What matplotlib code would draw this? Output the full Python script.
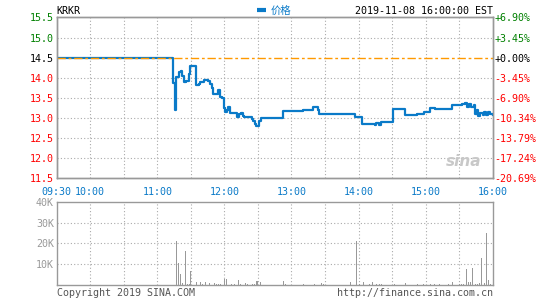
import numpy as np
import matplotlib.pyplot as plt

# minutes after 09:30 and price
t_price = [0, 103, 104, 106, 107, 109, 111, 112, 114, 116, 118, 119, 123, 125, 127,
           128, 132, 135, 137, 139, 140, 142, 144, 146, 148, 150, 151, 152, 153, 155,
           160, 161, 163, 165, 167, 168, 173, 175, 176, 177, 178, 180, 181, 183, 201,
           202, 219, 220, 227, 229, 232, 234, 235, 265, 267, 271, 273, 280, 285, 286,
           288, 290, 300, 301, 311, 312, 321, 322, 328, 329, 332, 334, 337, 338, 352,
           354, 362, 363, 365, 367, 369, 371, 373, 374, 376, 377, 379, 381, 382, 384,
           386, 388, 390]
price = [14.5, 14.5, 13.86, 13.2, 14.02, 14.15, 14.17, 14.05, 13.9, 13.93, 14.1, 14.3, 14.3, 13.82, 13.85,
         13.9, 13.95, 13.92, 13.84, 13.74, 13.59, 13.59, 13.7, 13.53, 13.5, 13.24, 13.15, 13.2, 13.28, 13.11,
         13.11, 13.03, 13.1, 13.13, 13.05, 13.01, 13.03, 12.98, 12.93, 12.85, 12.8, 12.8, 12.92, 13.0, 13.0,
         13.17, 13.17, 13.19, 13.2, 13.27, 13.28, 13.2, 13.09, 13.09, 13.02, 13.02, 12.84, 12.84, 12.82, 12.88,
         12.83, 12.9, 12.9, 13.22, 13.22, 13.06, 13.06, 13.1, 13.1, 13.14, 13.14, 13.25, 13.25, 13.22, 13.22,
         13.32, 13.32, 13.35, 13.38, 13.28, 13.35, 13.26, 13.33, 13.1, 13.2, 13.05, 13.13, 13.07, 13.15, 13.08,
         13.15, 13.1, 13.07]

# volume bars (minutes after 09:30, shares)
t_vol = [107.3, 108.8, 110.6, 112.3, 115, 116.8, 118.6, 120.1, 124.9, 128.4, 130.2, 132.9, 136.5,
         141, 143.1, 144.9, 146.3, 150.5, 152.3, 154.1, 156.5, 158.9, 160.4, 162.4, 164.6, 168.7,
         170.8, 172.9, 175, 176.7, 178.5, 179.4, 182.1, 202.7, 204.5, 220.6, 230.4, 237, 238.5,
         262.6, 268, 270.7, 274.2, 280.2, 282.3, 286.2, 288.6, 290.7, 302, 311.8, 322.5, 327.9,
         334.2, 337.7, 342.2, 348.2, 350.3, 353.8, 360.7, 362.3, 363.7, 366.4, 368.2, 370, 371.7,
         374.8, 376.2, 378, 379.8, 382.5, 384.3, 386, 387.8]
volume = [21200, 10800, 5400, 1100, 16400, 500, 700, 7000, 1600, 1600, 800, 1400, 900,
          1300, 500, 500, 500, 3200, 3200, 1200, 500, 500, 500, 2500, 800, 1100,
          500, 500, 500, 500, 2000, 2000, 1600, 2000, 600, 500, 500, 1100, 600,
          1600, 21200, 500, 1600, 600, 1400, 700, 700, 400, 500, 1100, 500, 500,
          500, 500, 500, 500, 500, 1600, 500, 500, 500, 7800, 1800, 1800, 8300,
          500, 500, 1000, 13000, 1000, 25000, 2500, 700]

prev_close = 14.5
price_ticks = [11.5, 12.0, 12.5, 13.0, 13.5, 14.0, 14.5, 15.0, 15.5]
time_ticks = [0, 30, 90, 150, 210, 270, 330, 390]
time_labels = ["09:30", "10:00", "11:00", "12:00", "13:00", "14:00", "15:00", "16:00"]
vol_ticks = [10000, 20000, 30000, 40000]
vol_labels = ["10K", "20K", "30K", "40K"]

mono = "DejaVu Sans Mono"
fs = 7.2
blue = "#0a7ac8"
green = "#008000"
red = "#ff0000"
gray = "#999999"
grid_kw = dict(color="#aaaaaa", linestyle=(0, (1, 2)), linewidth=0.8)


def tick_color(p):
    if p > prev_close:
        return green
    if p < prev_close:
        return red
    return "black"


fig = plt.figure(figsize=(5.45, 3.0), dpi=100)
ax = fig.add_axes([0.104, 0.406, 0.800, 0.536])
axv = fig.add_axes([0.104, 0.049, 0.800, 0.279])

# price panel
for g in range(30, 390, 30):
    ax.axvline(g, **grid_kw, zorder=1)
for p in price_ticks[1:-1]:
    if p != prev_close:
        ax.axhline(p, **grid_kw, zorder=1)
ax.plot(t_price, price, drawstyle="steps-post", color=blue, linewidth=1.6, zorder=3)
ax.axhline(prev_close, color="#ff9900", linewidth=1.0, linestyle=(0, (6, 2, 2, 2)), zorder=4)
ax.set_xlim(0, 390)
ax.set_ylim(11.5, 15.5)
ax.set_yticks(price_ticks)
ax.set_yticklabels(["%.1f" % p for p in price_ticks], family=mono, fontsize=fs)
for lab, p in zip(ax.get_yticklabels(), price_ticks):
    lab.set_color(tick_color(p))
ax.set_xticks(time_ticks)
ax.set_xticklabels(time_labels, family=mono, fontsize=fs, color=blue)
ax.tick_params(axis="y", length=0, pad=2)
ax.tick_params(axis="x", length=0, pad=6)

ax2 = ax.twinx()
ax2.set_ylim(11.5, 15.5)
ax2.set_yticks(price_ticks)
ax2.set_yticklabels(["%+.2f%%" % ((p - prev_close) / prev_close * 100) for p in price_ticks],
                    family=mono, fontsize=fs)
for lab, p in zip(ax2.get_yticklabels(), price_ticks):
    lab.set_color(tick_color(p))
ax2.tick_params(length=0, pad=1)

for a in (ax, ax2, axv):
    for s in a.spines.values():
        s.set_color(gray)
        s.set_linewidth(1.0)

ax.text(0, 1.01, "KRKR", transform=ax.transAxes, family=mono, fontsize=fs, va="bottom")
ax.text(1.0, 1.01, "2019-11-08 16:00:00 EST", transform=ax.transAxes, family=mono,
        fontsize=fs, va="bottom", ha="right")
ax.plot([0.459, 0.481], [1.043, 1.043], transform=ax.transAxes, color=blue, linewidth=3,
        clip_on=False, solid_capstyle="butt")
ax.text(0.49, 1.01, "价格", transform=ax.transAxes, family=["Noto Sans CJK SC", "DejaVu Sans"],
        fontsize=7.5, color=blue, va="bottom")
ax.text(0.975, 0.06, "sina", transform=ax.transAxes, fontsize=11, fontweight="bold",
        style="italic", color="#c8c8c8", ha="right", va="bottom", zorder=2)

# volume panel
for g in range(30, 390, 30):
    axv.axvline(g, **grid_kw, zorder=1)
for v in vol_ticks[:-1]:
    axv.axhline(v, **grid_kw, zorder=1)
axv.bar(t_vol, volume, width=0.8, color=gray, zorder=3)
axv.set_xlim(0, 390)
axv.set_ylim(0, 40000)
axv.set_xticks([])
axv.set_yticks(vol_ticks)
axv.set_yticklabels(vol_labels, family=mono, fontsize=fs, color=gray)
axv.tick_params(length=0, pad=2)

fig.text(0.104, 0.005, "Copyright 2019 SINA.COM", family=mono, fontsize=fs, color="#555555",
         va="bottom")
fig.text(0.904, 0.005, "http://finance.sina.com.cn", family=mono, fontsize=fs, color="#555555",
         va="bottom", ha="right")

fig.savefig("out.png", dpi=100)
